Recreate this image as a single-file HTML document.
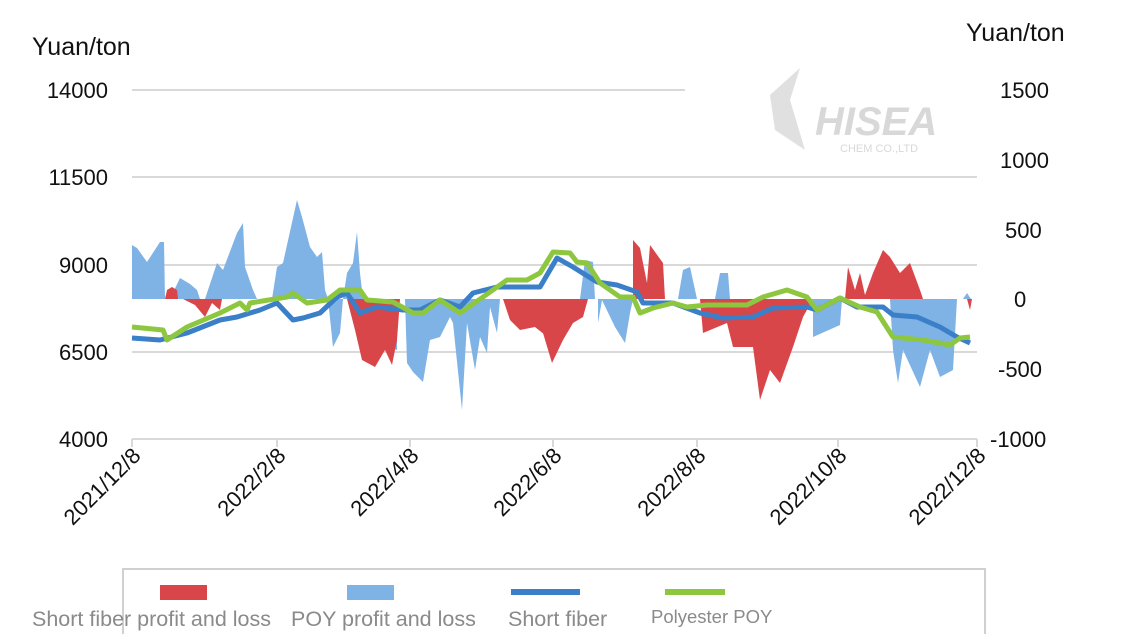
<!DOCTYPE html>
<html><head><meta charset="utf-8"><style>
html,body{margin:0;padding:0;background:#fff;}
svg{display:block;font-family:"Liberation Sans",sans-serif;}
</style></head><body>
<svg width="1125" height="634" viewBox="0 0 1125 634">
<!-- watermark -->
<g opacity="0.45">
<path d="M770 95 L800 68 L790 100 L805 150 L775 130 Z" fill="#bbb"/>
<text x="815" y="135" font-size="40" font-style="italic" font-weight="bold" fill="#aaa">HISEA</text>
<text x="840" y="152" font-size="11" fill="#aaa">CHEM CO.,LTD</text>
</g>
<!-- grid -->
<g stroke="#d9d9d9" stroke-width="2">
<line x1="132" y1="90" x2="685" y2="90"/>
<line x1="132" y1="177" x2="977" y2="177"/>
<line x1="132" y1="265" x2="977" y2="265"/>
<line x1="132" y1="352" x2="977" y2="352"/>
<line x1="132" y1="439" x2="977" y2="439"/>
</g>
<g stroke="#d9d9d9" stroke-width="2">
<line x1="132" y1="439" x2="132" y2="447"/><line x1="277" y1="439" x2="277" y2="447"/>
<line x1="410" y1="439" x2="410" y2="447"/><line x1="553" y1="439" x2="553" y2="447"/>
<line x1="697" y1="439" x2="697" y2="447"/><line x1="838" y1="439" x2="838" y2="447"/>
<line x1="977" y1="439" x2="977" y2="447"/>
</g>
<!-- POY profit (blue area) -->
<g fill="#7fb2e5">
<path d="M132 299 L132 245 L137 248 L147 262 L160 242 L164 242 L165 299 Z"/>
<path d="M170 299 L180 278 L190 284 L197 290 L200 299 Z"/>
<path d="M205 299 L217 263 L223 270 L237 233 L243 223 L245 267 L253 290 L257 299 Z"/>
<path d="M272 299 L277 267 L283 263 L297 200 L302 217 L310 247 L317 257 L322 252 L325 290 L328 299 Z"/>
<path d="M343 299 L347 273 L353 263 L357 232 L360 273 L363 299 Z"/>
<path d="M328 299 L333 347 L340 333 L343 299 Z"/>
<path d="M350 299 L360 340 L380 345 L397 350 L397 299 Z"/>
<path d="M405 299 L407 363 L413 372 L423 382 L430 340 L440 337 L450 317 L453 323 L462 410 L467 323 L475 370 L480 337 L487 353 L490 307 L497 333 L500 299 Z"/>
<path d="M580 299 L585 260 L593 262 L595 299 Z"/>
<path d="M598 299 L598 323 L602 300 L615 327 L625 343 L630 313 L633 299 Z"/>
<path d="M678 299 L683 270 L690 267 L697 299 Z"/>
<path d="M715 299 L720 273 L728 273 L730 299 Z"/>
<path d="M813 299 L813 337 L840 325 L842 299 Z"/>
<path d="M890 299 L893 350 L898 383 L903 350 L920 387 L930 350 L940 377 L953 370 L957 299 Z"/>
<path d="M963 299 L967 293 L971 299 Z"/>
</g>
<!-- Short fiber profit (red area) -->
<g fill="#d9464a">
<path d="M165 299 L167 290 L172 287 L177 290 L178 299 Z"/>
<path d="M183 299 L195 305 L205 317 L212 303 L220 310 L222 299 Z"/>
<path d="M347 299 L355 330 L362 360 L375 367 L385 350 L392 365 L397 340 L400 299 Z"/>
<path d="M503 299 L510 320 L520 330 L535 327 L545 335 L550 313 L550 299 Z"/>
<path d="M540 299 L540 323 L552 363 L563 340 L573 323 L583 317 L588 299 Z"/>
<path d="M633 299 L633 240 L640 248 L647 283 L650 245 L663 263 L665 299 Z"/>
<path d="M700 299 L703 333 L727 323 L733 347 L753 347 L760 400 L770 370 L780 383 L793 347 L803 317 L813 299 Z"/>
<path d="M845 299 L848 267 L855 290 L860 273 L865 295 L873 273 L883 250 L890 257 L900 273 L910 263 L920 290 L923 299 Z"/>
<path d="M967 299 L970 310 L972 299 Z"/>
</g>
<!-- Short fiber line -->
<polyline fill="none" stroke="#3a7fc8" stroke-width="5" stroke-linejoin="round" points="132,338 160,340 187,333 220,320 237,317 260,310 277,303 293,320 303,318 320,313 337,297 347,293 360,313 377,307 403,310 420,310 440,300 460,307 473,293 497,287 530,287 540,287 557,258 573,267 597,282 617,285 637,292 643,303 673,303 700,313 723,318 753,317 773,308 807,307 817,310 840,298 857,307 883,307 893,315 917,317 940,327 957,337 970,343"/>
<!-- Polyester POY line -->
<polyline fill="none" stroke="#8dc63f" stroke-width="5" stroke-linejoin="round" points="132,327 163,330 167,340 187,327 220,313 240,303 247,310 250,303 287,297 293,293 307,303 327,300 340,290 360,290 367,300 393,302 413,313 423,313 440,300 460,313 483,297 507,280 527,280 540,273 553,252 570,253 577,262 587,263 600,283 620,297 633,297 640,313 653,308 673,303 687,307 707,305 747,305 763,297 787,290 807,297 817,310 840,298 860,307 877,312 893,337 923,340 950,345 960,338 970,337"/>
<!-- axis labels -->
<g font-size="22" fill="#111">
<text x="32" y="55" font-size="25">Yuan/ton</text>
<text x="966" y="41" font-size="25">Yuan/ton</text>
<g text-anchor="end">
<text x="108" y="98">14000</text><text x="108" y="185">11500</text>
<text x="108" y="273">9000</text><text x="108" y="360">6500</text>
<text x="108" y="447">4000</text>
</g>
<g>
<text x="1000" y="98">1500</text><text x="1000" y="168">1000</text>
<text x="1005" y="238">500</text><text x="1014" y="307">0</text>
<text x="998" y="377">-500</text><text x="990" y="447">-1000</text>
</g>
<g text-anchor="end">
<text transform="translate(142,457) rotate(-45)">2021/12/8</text>
<text transform="translate(287,457) rotate(-45)">2022/2/8</text>
<text transform="translate(420,457) rotate(-45)">2022/4/8</text>
<text transform="translate(563,457) rotate(-45)">2022/6/8</text>
<text transform="translate(707,457) rotate(-45)">2022/8/8</text>
<text transform="translate(848,457) rotate(-45)">2022/10/8</text>
<text transform="translate(987,457) rotate(-45)">2022/12/8</text>
</g>
</g>
<!-- legend -->
<rect x="123" y="569" width="862" height="70" fill="none" stroke="#d0d0d0" stroke-width="2"/>
<rect x="160" y="585" width="47" height="15" fill="#d9464a"/>
<rect x="347" y="585" width="47" height="15" fill="#7fb2e5"/>
<line x1="511" y1="592" x2="580" y2="592" stroke="#3a7fc8" stroke-width="6"/>
<line x1="665" y1="592" x2="725" y2="592" stroke="#8dc63f" stroke-width="6"/>
<g fill="#8a8a8a" font-size="21.5">
<text x="32" y="626">Short fiber profit and loss</text>
<text x="291" y="626">POY profit and loss</text>
<text x="508" y="626">Short fiber</text>
<text x="651" y="623" font-size="18.5">Polyester POY</text>
</g>
</svg>
</body></html>
